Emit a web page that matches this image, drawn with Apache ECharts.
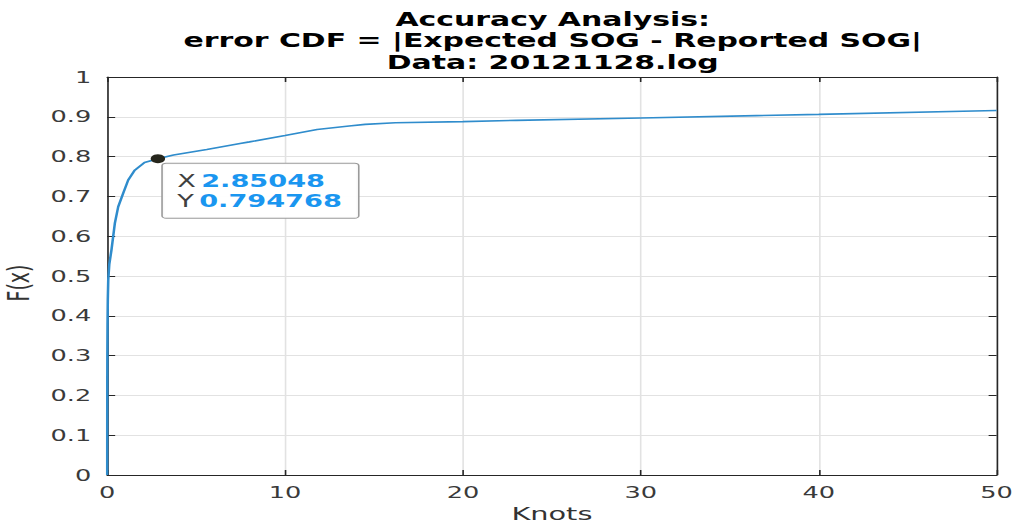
<!DOCTYPE html>
<html>
<head>
<meta charset="utf-8">
<script src="https://cdn.jsdelivr.net/npm/echarts@6/dist/echarts.min.js"></script>
<style>
html,body{margin:0;padding:0;background:#fff;overflow:hidden;}
#wrap{width:1019px;height:529px;overflow:hidden;}
#chart{width:637px;height:529px;transform:scaleX(1.59969);transform-origin:0 0;}
</style>
</head>
<body>
<div id="wrap"><div id="chart"></div></div>
<script>
// ---- data ----
const titleLines = ['Accuracy Analysis:', 'error CDF = |Expected SOG - Reported SOG|', 'Data: 20121128.log'];
const xAxisTitle = 'Knots';
const yAxisTitle = 'F(x)';
const xTickLabels = ['0', '10', '20', '30', '40', '50'];
const yTickLabels = ['0', '0.1', '0.2', '0.3', '0.4', '0.5', '0.6', '0.7', '0.8', '0.9', '1'];
const errorKnots = [0, 0.002, 0.005, 0.01, 0.02, 0.035, 0.06, 0.12, 0.24, 0.43, 0.62, 0.9, 1.18, 1.55, 2.1, 2.85048, 3.73, 5.6, 7.47, 8.0, 10, 11.8, 13.6, 14.5, 16.2, 20, 23, 30, 36.5, 40, 50];
const cdfValues  = [0, 0.1, 0.2, 0.3, 0.38, 0.44, 0.49, 0.53, 0.565, 0.632, 0.674, 0.708, 0.741, 0.766, 0.785, 0.794768, 0.804, 0.818, 0.833, 0.837, 0.853, 0.868, 0.877, 0.881, 0.885, 0.888, 0.891, 0.897, 0.903, 0.906, 0.916];
const tipX = 2.85048;
const tipY = 0.794768;

const FONT = 'DejaVu Sans';
const seriesData = errorKnots.map((x, i) => [x, cdfValues[i]]);

const chart = echarts.init(document.getElementById('chart'), null, {renderer: 'svg', width: 637, height: 529});

const axisCommon = {
  type: 'value',
  axisLine: {show: true, onZero: false, lineStyle: {color: '#262626', width: 1}},
  axisTick: {show: true, inside: true, length: 5, lineStyle: {color: '#262626', width: 1}}
};

chart.setOption({
  animation: false,
  backgroundColor: '#ffffff',
  title: {
    text: titleLines.join('\n'),
    left: 340.5,
    textAlign: 'center',
    top: 3.5,
    textStyle: {fontFamily: FONT, fontSize: 18.7, fontWeight: 'bold', color: '#000', lineHeight: 21.5}
  },
  grid: {left: 67, right: 14, top: 77, bottom: 54, containLabel: false, outerBoundsMode: 'none'},
  xAxis: [
    Object.assign({}, axisCommon, {
      position: 'bottom', min: 0, max: 50, interval: 10,
      name: xAxisTitle, nameLocation: 'middle', nameGap: 30,
      nameTextStyle: {fontFamily: FONT, fontSize: 18, color: '#333'},
      axisLabel: {fontFamily: FONT, fontSize: 16, color: '#3a3a3a', margin: 9,
        formatter: (v, i) => xTickLabels[i]},
      splitLine: {show: true, lineStyle: {color: '#e2e2e2', width: 1}}
    }),
    Object.assign({}, axisCommon, {
      position: 'top', min: 0, max: 50, interval: 10,
      axisLabel: {show: false}, splitLine: {show: false}
    })
  ],
  yAxis: [
    Object.assign({}, axisCommon, {
      position: 'left', min: 0, max: 1, interval: 0.1,
      name: yAxisTitle, nameLocation: 'middle', nameGap: 46,
      nameTextStyle: {fontFamily: FONT, fontSize: 19, color: '#333', padding: [0, 14, 0, 0]},
      axisLabel: {fontFamily: FONT, fontSize: 16, color: '#3a3a3a', margin: 10,
        formatter: (v, i) => yTickLabels[i]},
      splitLine: {show: true, lineStyle: {color: '#e2e2e2', width: 1}}
    }),
    Object.assign({}, axisCommon, {
      position: 'right', min: 0, max: 1, interval: 0.1,
      axisLabel: {show: false}, splitLine: {show: false}
    })
  ],
  series: [{
    type: 'line',
    data: seriesData,
    showSymbol: false,
    smooth: false,
    lineStyle: {color: '#2f8ccc', width: 1.6},
    itemStyle: {color: '#2f8ccc'},
    emphasis: {disabled: true},
    markPoint: {
      symbol: 'circle',
      symbolSize: 9,
      silent: true,
      itemStyle: {color: '#26261c'},
      label: {
        show: true,
        position: [7.6, 9.5],
        align: 'left',
        verticalAlign: 'top',
        formatter: () => '{k|X} {v|' + tipX + '}\n{k|Y} {v|' + tipY + '}',
        backgroundColor: 'rgba(255,255,255,0.95)',
        borderColor: '#9a9a9a',
        borderWidth: 1,
        borderRadius: 2,
        padding: [7, 10, 7, 9],
        rich: {
          k: {fontFamily: FONT, fontSize: 17, color: '#404040', lineHeight: 20},
          v: {fontFamily: FONT, fontSize: 17, fontWeight: 'bold', color: '#1a96f0', lineHeight: 20}
        }
      },
      data: [{coord: [tipX, tipY]}]
    }
  }]
});
</script>
</body>
</html>
